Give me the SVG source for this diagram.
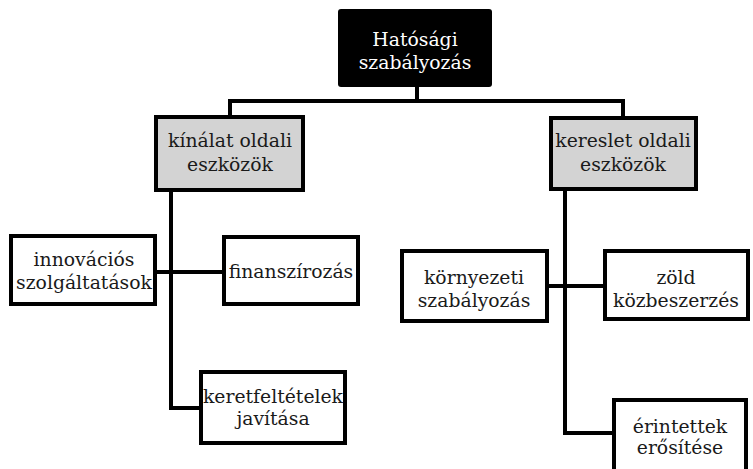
<svg xmlns="http://www.w3.org/2000/svg" width="753" height="469" viewBox="0 0 753 469">
<style>
.box{fill:#fff;stroke:#000;stroke-width:4}
.gray{fill:#d3d3d3;stroke:#000;stroke-width:4}
.t{font-family:"DejaVu Serif","Liberation Serif",serif;font-size:18.8px;fill:#1a1a1a;text-anchor:middle}
.w{fill:#fff}
.c{fill:none;stroke:#000;stroke-width:4}
</style>
<rect width="753" height="469" fill="#fff"/>
<g id="connectors">
<path class="c" d="M417 87V101M230 101H623M230 99V117M623 99V118"/>
<path class="c" d="M171 190V408H201M155 272H224"/>
<path class="c" d="M565 189V433H614M547 286H605"/>
</g>
<g id="root">
<rect x="338" y="9" width="154" height="78" rx="3" fill="#000"/>
<text class="t w" x="415" y="46">Hatósági</text>
<text class="t w" x="415" y="69">szabályozás</text>
</g>
<g id="kinalat">
<rect class="gray" x="156" y="117" width="147" height="73"/>
<text class="t" x="230" y="147">kínálat oldali</text>
<text class="t" x="230" y="171">eszközök</text>
</g>
<g id="kereslet">
<rect class="gray" x="551" y="118" width="145" height="71"/>
<text class="t" x="623" y="147">kereslet oldali</text>
<text class="t" x="623" y="171">eszközök</text>
</g>
<g id="innovacios">
<rect class="box" x="11" y="236" width="144" height="68"/>
<text class="t" x="84" y="266">innovációs</text>
<text class="t" x="84" y="289">szolgáltatások</text>
</g>
<g id="finanszirozas">
<rect class="box" x="224" y="237" width="134" height="67"/>
<text class="t" x="291" y="278">finanszírozás</text>
</g>
<g id="kornyezeti">
<rect class="box" x="402" y="251" width="145" height="70"/>
<text class="t" x="474" y="284">környezeti</text>
<text class="t" x="474" y="307">szabályozás</text>
</g>
<g id="zold">
<rect class="box" x="605" y="251" width="143" height="68"/>
<text class="t" x="676" y="284">zöld</text>
<text class="t" x="676" y="307">közbeszerzés</text>
</g>
<g id="keretfeltetelek">
<rect class="box" x="201" y="372" width="144" height="71"/>
<text class="t" x="273" y="403">keretfeltételek</text>
<text class="t" x="273" y="425">javítása</text>
</g>
<g id="erintettek">
<rect class="box" x="614" y="400" width="132" height="80"/>
<text class="t" x="680" y="433">érintettek</text>
<text class="t" x="680" y="454">erősítése</text>
</g>
</svg>
